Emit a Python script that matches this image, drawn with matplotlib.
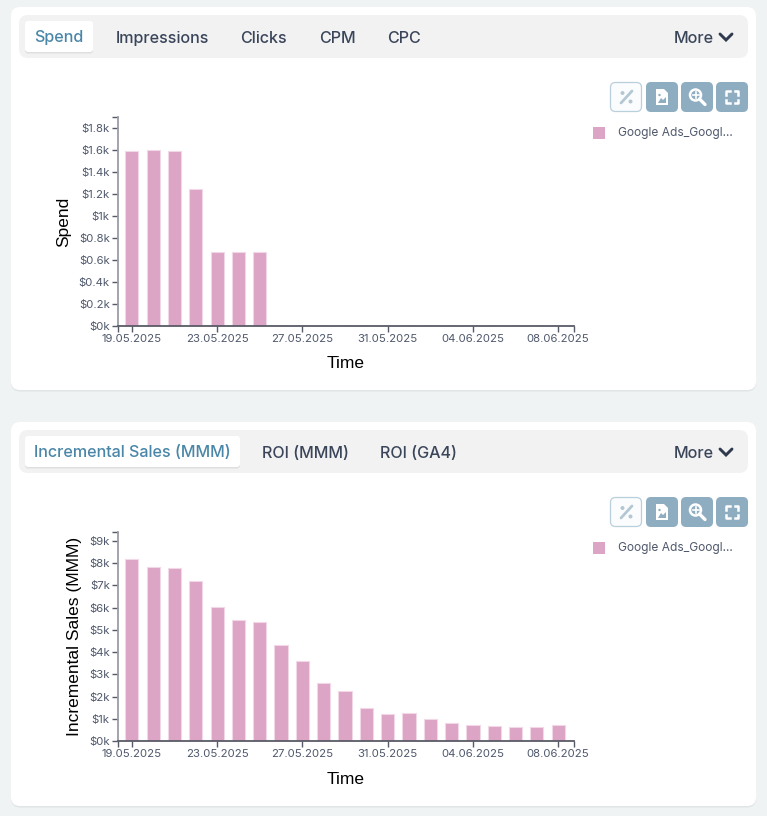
import numpy as np
import matplotlib
matplotlib.use("Agg")
import matplotlib.pyplot as plt
from matplotlib.patches import FancyBboxPatch, Rectangle, Circle

W, H = 767, 816

# values in thousands of dollars
spend = [1.59, 1.60, 1.595, 1.25, 0.67, 0.67, 0.67, 0, 0, 0, 0, 0, 0, 0, 0, 0, 0, 0, 0, 0, 0]
sales = [8.17, 7.82, 7.77, 7.18, 6.02, 5.42, 5.36, 4.34, 3.58, 2.62, 2.24,
         1.48, 1.22, 1.28, 0.98, 0.83, 0.73, 0.67, 0.65, 0.63, 0.72]
date_ticks = [0, 4, 8, 12, 16, 20]
date_labels = ["19.05.2025", "23.05.2025", "27.05.2025", "31.05.2025", "04.06.2025", "08.06.2025"]
spend_ticks = [0, 0.2, 0.4, 0.6, 0.8, 1, 1.2, 1.4, 1.6, 1.8]
spend_labels = ["$0k", "$0.2k", "$0.4k", "$0.6k", "$0.8k", "$1k", "$1.2k", "$1.4k", "$1.6k", "$1.8k"]
sales_ticks = [0, 1, 2, 3, 4, 5, 6, 7, 8, 9]
sales_labels = ["$0k", "$1k", "$2k", "$3k", "$4k", "$5k", "$6k", "$7k", "$8k", "$9k"]
tabs_top = [("Spend", 59), ("Impressions", 162), ("Clicks", 263), ("CPM", 337), ("CPC", 404)]
tabs_bottom = [("Incremental Sales (MMM)", 132), ("ROI (MMM)", 305), ("ROI (GA4)", 418)]

PINK = "#dca4c5"
EDGE = "#f2d8e7"
TAB = "#3a455a"
BLUE = "#4a86a8"
ICON = "#8eadc1"
TICK = "#4f586c"

plt.rcParams["font.family"] = ["Inter", "DejaVu Sans"]

fig = plt.figure(figsize=(W / 100, H / 100), dpi=100, facecolor="#eff3f3")
bg = fig.add_axes([0, 0, 1, 1], zorder=0)
bg.set_xlim(0, W)
bg.set_ylim(H, 0)
bg.axis("off")


def rounded(x0, y0, x1, y1, r, **kw):
    p = FancyBboxPatch((x0 + r, y0 + r), x1 - x0 - 2 * r, y1 - y0 - 2 * r,
                       boxstyle=f"round,pad={r},rounding_size={r}", **kw)
    bg.add_patch(p)


def draw_icons(y):
    rounded(610.5, y + 0.5, 641.5, y + 29.5, 5, fc="#fbfcfd", ec="#b9cfdb", lw=0.9)
    # percent icon
    bg.plot([621, 632], [y + 21, y + 9], color="#b4c8d4", lw=2, solid_capstyle="round")
    bg.add_patch(Circle((622.5, y + 11), 2, fc="#b4c8d4", ec="none"))
    bg.add_patch(Circle((630.5, y + 19.5), 2, fc="#b4c8d4", ec="none"))
    for x0 in (646, 681, 716):
        rounded(x0, y, x0 + 32, y + 30, 5, fc=ICON, ec="none")
    # file icon
    bg.fill([656, 664, 668, 668, 656], [y + 7, y + 7, y + 11, y + 23, y + 23], fc="white", ec="none")
    bg.fill([658, 661, 663, 666, 666, 658], [y + 21, y + 16, y + 18, y + 15, y + 21, y + 21], fc=ICON, ec="none")
    bg.add_patch(Circle((659.5, y + 13), 1.2, fc=ICON, ec="none"))
    # zoom icon
    bg.add_patch(Circle((695.5, y + 13), 5.5, fc="none", ec="white", lw=1.8))
    bg.plot([699.5, 705], [y + 17, y + 22.5], color="white", lw=2.4, solid_capstyle="round")
    bg.plot([692.5, 698.5], [y + 13, y + 13], color="white", lw=1.2)
    bg.plot([695.5, 695.5], [y + 10, y + 16], color="white", lw=1.2)
    # fullscreen icon, only the corners
    for sx, sy in ((726, y + 9), (738, y + 9), (726, y + 21), (738, y + 21)):
        dx = 3.5 if sx == 726 else -3.5
        dy = 3.5 if sy == y + 9 else -3.5
        bg.plot([sx + dx, sx, sx], [sy, sy, sy + dy], color="white", lw=1.8)


def draw_card(card_top, card_bottom, tabs, active_right):
    rounded(11, card_top + 1, 756, card_bottom + 1.5, 9, fc="#e2e5e5", ec="none")
    rounded(11, card_top, 756, card_bottom, 9, fc="white", ec="none")
    tt = card_top + 8
    rounded(19, tt, 748, tt + 43, 9, fc="#f2f2f2", ec="none")
    rounded(25, tt + 7, active_right, tt + 38.5, 3, fc="#dfdfdf", ec="none")
    rounded(25, tt + 6, active_right, tt + 37, 3, fc="white", ec="none")
    for i, (name, cx) in enumerate(tabs):
        y = tt + 22.5 if i == 0 else tt + 23.5
        bg.text(cx, y, name, ha="center", va="center", fontsize=11.6, fontweight="medium",
                color=BLUE if i == 0 else TAB)
    bg.text(693.5, tt + 23.5, "More", ha="center", va="center", fontsize=11.6, fontweight="medium", color=TAB)
    bg.plot([720, 726, 732], [tt + 19, tt + 25, tt + 19], color="#2f3a4e", lw=2.1,
            solid_capstyle="round", solid_joinstyle="miter")
    draw_icons(card_top + 75)
    bg.add_patch(Rectangle((593, card_top + 120), 12, 12, fc=PINK, ec="none"))
    bg.text(618, card_top + 126, "Google Ads_Googl...", ha="left", va="center", fontsize=8.6, color=TICK)


def draw_chart(top, bottom, values, ymax, yticks, ylabels, ylabel, label_x):
    # axes positioned in pixels of the reference
    ax = fig.add_axes([118 / W, 1 - bottom / H, (573.5 - 118) / W, (bottom - top) / H], zorder=2)
    ax.patch.set_alpha(0)
    ax.bar(range(len(values)), values, width=0.62, color=PINK, edgecolor=EDGE, linewidth=0.8)
    ax.set_xlim(-0.65, 20.72)
    ax.set_ylim(0, ymax)
    ax.set_xticks(date_ticks, date_labels)
    ax.set_yticks(yticks, ylabels)
    ax.set_xticks([-0.65, 20.72], minor=True)
    ax.set_yticks([ymax], minor=True)
    ax.tick_params(axis="both", which="both", labelsize=8.2, labelcolor=TICK, color="#555a66",
                   width=1, length=4.3, pad=1.5)
    ax.tick_params(axis="y", which="major", pad=1.6)
    for s in ("top", "right"):
        ax.spines[s].set_visible(False)
    ax.spines["left"].set_color("#9b9ca6")
    ax.spines["left"].set_linewidth(1.3)
    ax.spines["bottom"].set_color("#5a5a66")
    ax.spines["bottom"].set_linewidth(1.3)
    ax.set_xlabel("Time", fontsize=12.5, family="Liberation Sans", color="black")
    ax.xaxis.set_label_coords((346 - 118) / (573.5 - 118), -38 / (bottom - top), transform=ax.transAxes)
    ax.xaxis.label.set_va("center")
    ax.set_ylabel(ylabel, fontsize=12.5, family="Liberation Sans", color="black")
    ax.yaxis.set_label_coords((label_x - 118) / (573.5 - 118), 0.5, transform=ax.transAxes)
    ax.yaxis.label.set_va("center")
    return ax


draw_card(7, 390, tabs_top, 93)
draw_card(422, 806, tabs_bottom, 240)

draw_chart(117, 326, spend, 1.9, spend_ticks, spend_labels, "Spend", 64)
draw_chart(532, 741, sales, 9.4, sales_ticks, sales_labels, "Incremental Sales (MMM)", 74)

fig.savefig("out.png", dpi=100, facecolor=fig.get_facecolor())
